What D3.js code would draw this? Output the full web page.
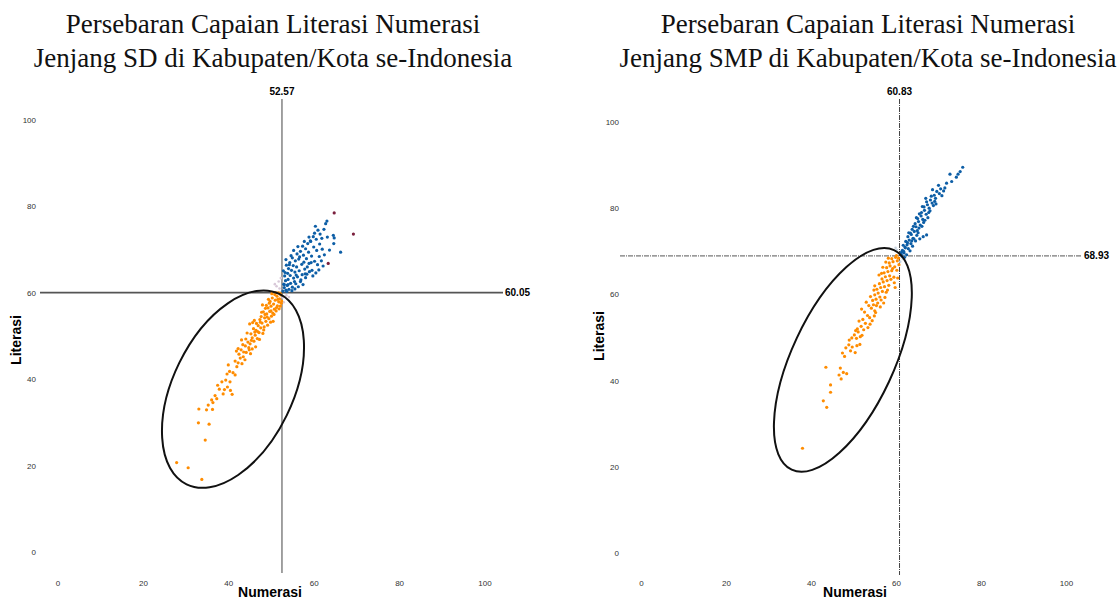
<!DOCTYPE html>
<html>
<head>
<meta charset="utf-8">
<script src="https://cdn.jsdelivr.net/npm/d3@7"></script>
<style>
  body { margin: 0; background: #fff; }
  svg { display: block; }
  .tick text { font-family: "Liberation Sans", Arial, sans-serif; font-size: 8px; fill: #333; }
</style>
</head>
<body>
<div id="chart"></div>
<script>
// tick labels
var ticks = [0, 20, 40, 60, 80, 100];

// SD panel: [numerasi, literasi]
var sdMean = [52.57, 60.05];
var sdBawah = [[27.9,20.7],[30.6,19.5],[33.8,16.8],[34.6,25.9],[33.0,29.9],[35.5,29.6],[33.1,33.1],[34.9,32.9],[35.3,34.0],[36.1,35.2],[36.4,34.6],[36.9,36.2],[37.3,35.5],[37.9,37.7],[39.1,37.6],[39.8,38.2],[40.5,37.4],[38.5,39.4],[40.9,36.5],[40.4,39.4],[39.7,41.2],[40.3,41.8],[41.1,41.5],[41.6,41.0],[40.0,43.3],[41.6,44.2],[42.3,43.8],[42.8,44.9],[43.2,43.6],[43.9,44.5],[43.5,45.2],[42.5,45.8],[42.3,47.1],[43.0,46.8],[43.4,48.0],[44.2,46.2],[44.8,47.3],[45.2,45.9],[44.6,48.6],[45.1,48.2],[44.1,49.3],[45.6,49.6],[46.0,48.8],[46.3,50.2],[45.3,50.5],[46.8,49.4],[47.2,50.8],[46.5,51.3],[45.9,51.7],[47.6,51.9],[48.1,50.6],[47.0,52.4],[48.4,52.1],[47.9,53.0],[46.6,52.9],[48.8,53.4],[49.2,52.5],[48.5,54.2],[49.5,54.0],[47.7,54.5],[49.0,55.1],[50.1,54.6],[48.2,55.6],[49.7,55.7],[50.4,55.3],[50.8,56.2],[49.3,56.5],[50.0,56.9],[51.2,55.8],[48.9,57.1],[50.6,57.4],[51.5,57.0],[49.8,58.0],[51.0,58.3],[51.8,57.9],[50.3,58.8],[52.0,58.6],[51.4,59.2],[50.9,59.6],[52.3,59.5],[51.7,60.0],[49.6,57.6],[48.7,56.4],[47.4,53.8],[46.1,53.6],[45.0,52.8],[48.0,57.2],[51.9,56.3],[52.4,57.6],[52.2,56.9],[50.5,53.4],[49.9,53.2],[47.3,49.2],[46.4,47.5],[45.6,47.0],[44.0,47.7],[43.6,46.3],[47.8,55.5],[50.2,59.8],[52.1,59.9],[51.1,60.0],[49.4,58.5],[51.6,58.5],[50.7,55.0],[49.1,54.4],[48.3,51.4],[46.9,51.0],[45.4,49.0],[44.4,50.7],[45.7,53.1],[52.5,58.1],[51.3,56.6],[50.0,55.8],[48.6,55.0],[47.5,53.2],[46.2,50.9],[44.9,46.8],[43.1,49.1],[41.9,46.5],[42.0,42.9],[38.8,36.6],[39.4,39.8],[37.5,38.6],[36.3,33.0]];
var sdAtas = [[52.8,60.4],[53.1,61.2],[53.5,60.6],[53.0,62.0],[53.8,61.7],[54.2,60.8],[53.4,62.8],[54.0,63.1],[54.6,62.2],[55.0,61.3],[53.2,63.9],[53.9,64.5],[54.5,64.0],[55.3,63.4],[55.8,62.1],[54.1,65.6],[54.8,65.2],[55.6,64.8],[56.2,63.7],[56.9,62.6],[53.6,66.4],[54.4,67.0],[55.2,66.3],[56.0,66.0],[56.6,65.1],[57.3,64.2],[55.0,68.1],[55.7,67.4],[56.5,67.8],[57.2,66.6],[57.9,65.5],[58.4,64.3],[56.1,69.0],[56.9,69.6],[57.6,68.7],[58.3,67.9],[58.9,66.8],[59.6,65.2],[57.4,70.8],[58.1,70.2],[58.8,69.4],[59.5,68.5],[60.2,67.3],[58.6,71.4],[59.3,71.9],[60.0,70.6],[60.7,69.8],[61.3,68.4],[59.9,73.0],[60.6,72.4],[61.4,71.3],[62.0,70.1],[62.2,66.2],[61.5,73.6],[61.0,74.5],[62.8,76.0],[63.1,76.6],[63.7,69.9],[64.7,71.4],[64.8,72.7],[66.3,69.4],[58.9,72.9],[59.2,72.0],[60.2,73.8],[53.7,60.3],[54.9,60.5],[55.6,60.9],[56.4,61.4],[57.5,61.9],[58.1,63.5],[57.0,63.0],[55.9,64.1],[53.3,64.7],[54.3,66.5],[52.9,65.1],[53.5,67.7],[54.7,68.6],[55.3,69.8],[56.3,70.7],[57.8,71.9],[58.0,64.4],[59.0,64.9],[59.8,63.9],[60.5,64.6],[61.2,65.3],[59.4,67.0],[60.9,66.5],[61.8,67.4],[62.5,68.8],[56.7,68.3],[57.7,67.1],[58.5,66.0],[61.9,72.6],[63.2,72.9],[62.4,74.7],[60.4,75.4],[64.6,73.3],[53.1,61.9],[54.0,61.9],[55.5,62.6]];
var sdLain = [[64.8,78.5],[69.3,73.6],[63.4,66.8]];
var sdTengah = [[51.3,61.5],[51.8,62.6],[52.0,61.0],[50.9,62.0],[52.3,63.4],[53.6,59.4],[54.2,59.0],[52.7,58.9],[53.0,57.8]];

// SMP panel
var smpMean = [60.83, 68.93];
var smpBawah = [[38.0,24.3],[42.9,35.3],[43.7,33.8],[44.6,37.3],[44.6,39.0],[43.5,43.1],[46.6,41.3],[46.9,42.9],[47.1,40.4],[47.6,41.9],[48.4,41.6],[47.4,46.4],[47.9,45.6],[48.2,47.6],[48.9,48.3],[49.3,46.9],[49.7,47.8],[50.4,46.5],[50.8,48.1],[49.6,49.9],[49.0,49.4],[50.2,50.6],[50.7,49.8],[51.1,51.3],[51.6,50.2],[50.9,52.0],[51.8,52.6],[51.3,53.8],[52.2,54.2],[52.8,53.3],[53.3,55.1],[52.6,55.9],[53.8,54.6],[54.2,56.8],[53.6,57.4],[54.7,57.6],[55.0,56.2],[54.5,58.6],[55.3,58.9],[55.7,58.0],[55.0,59.9],[55.8,60.3],[56.2,59.4],[55.5,61.2],[56.4,61.6],[56.8,60.7],[56.1,62.5],[57.0,62.9],[57.3,61.8],[56.7,63.6],[57.5,64.1],[57.9,63.2],[57.2,65.0],[58.1,65.3],[58.5,64.3],[57.8,66.2],[58.6,66.6],[59.0,65.5],[58.4,67.3],[59.3,67.6],[59.7,66.4],[59.0,68.3],[59.9,68.6],[60.3,67.8],[60.1,69.0],[60.6,68.4],[55.0,62.0],[56.0,64.5],[56.9,66.3],[57.6,67.5],[58.2,68.4],[59.5,64.0],[60.2,65.6],[60.7,66.9],[60.4,63.8],[54.9,55.0],[53.9,53.1],[52.4,51.8],[51.9,56.6],[53.0,58.2],[54.0,59.5],[55.4,57.4],[56.5,58.7],[57.7,60.5],[58.3,62.1],[58.8,63.5],[59.6,62.7],[59.2,66.0],[58.0,61.0],[56.3,57.1],[55.2,55.8],[54.4,53.9],[53.4,52.3],[52.0,50.5],[51.5,48.4],[50.5,51.6],[57.4,59.3],[57.1,58.0],[54.8,61.0],[56.6,64.9],[59.8,61.6]];
var smpAtas = [[61.2,69.3],[61.5,70.2],[61.9,69.6],[62.2,70.8],[61.7,71.4],[62.6,71.5],[62.9,70.6],[62.3,72.3],[63.1,72.6],[63.5,71.8],[62.8,73.4],[63.6,73.9],[64.0,73.0],[64.3,74.6],[63.8,75.1],[64.7,75.7],[65.0,74.8],[64.5,76.4],[65.3,76.9],[65.7,76.1],[65.1,77.6],[65.9,78.2],[66.3,77.4],[66.0,79.0],[66.7,79.5],[67.1,78.6],[66.6,80.3],[67.4,80.8],[67.8,80.0],[67.2,81.5],[68.1,81.9],[68.5,81.2],[68.3,82.8],[69.0,83.0],[69.3,82.3],[69.6,83.9],[70.2,83.4],[70.5,84.5],[71.5,84.7],[71.9,85.8],[73.1,86.2],[72.7,87.9],[74.2,87.2],[74.6,87.9],[75.1,88.5],[75.7,89.5],[66.4,73.4],[67.2,73.8],[65.6,72.9],[64.6,72.4],[63.3,70.1],[62.0,68.6],[61.4,68.9],[62.5,69.2],[63.9,71.2],[64.2,72.9],[64.9,73.7],[65.4,75.4],[66.1,75.8],[66.8,77.2],[67.5,77.8],[68.0,79.4],[68.8,80.6],[69.4,81.0],[62.1,71.0],[63.0,74.3],[63.4,74.2],[64.1,75.8],[64.8,77.8],[65.5,78.7],[66.2,80.4],[67.0,82.3],[68.6,84.3],[70.0,85.3],[62.7,72.0],[61.8,70.0],[61.3,69.8],[63.7,72.4],[65.2,74.3],[66.5,76.7],[67.7,79.0],[69.1,81.6],[70.8,82.9],[71.2,84.0]];
var smpTengah = [[60.2,70.3],[61.0,67.6],[61.6,68.2],[59.9,70.8],[62.2,67.7]];

var titles = [
  ["Persebaran Capaian Literasi Numerasi", "Jenjang SD di Kabupaten/Kota se-Indonesia"],
  ["Persebaran Capaian Literasi Numerasi", "Jenjang SMP di Kabupaten/Kota se-Indonesia"]
];

var svg = d3.select("#chart").append("svg")
  .attr("width", 1119)
  .attr("height", 599);

function panel(opt) {
  var x = d3.scaleLinear().domain([0, 100]).range([opt.x0, opt.x1]);
  var y = d3.scaleLinear().domain([0, 100]).range([opt.y0, opt.y1]);
  var g = svg.append("g");

  // title
  var t = g.append("text")
    .attr("x", opt.cx)
    .attr("y", 33)
    .attr("text-anchor", "middle")
    .style("font-family", "'Liberation Serif', 'Times New Roman', serif")
    .style("font-size", "27px")
    .style("fill", "#111");
  t.append("tspan").attr("x", opt.cx).text(opt.title[0]);
  t.append("tspan").attr("x", opt.cx).attr("dy", 34).text(opt.title[1]);

  // axes (labels only)
  var xAxis = d3.axisBottom(x).tickValues(ticks).tickSize(0).tickPadding(0);
  g.append("g").attr("transform", "translate(0," + opt.xLabY + ")").call(xAxis)
    .call(function(a) { a.select(".domain").remove(); });
  var yAxis = d3.axisLeft(y).tickValues(ticks).tickSize(0).tickPadding(0);
  g.append("g").attr("transform", "translate(" + opt.yLabX + ",0)").call(yAxis)
    .call(function(a) { a.select(".domain").remove(); })
    .selectAll("text").attr("dy", "0.32em");

  g.append("text")
    .attr("x", opt.nx).attr("y", 597)
    .attr("text-anchor", "middle")
    .style("font-family", "'Liberation Sans', Arial, sans-serif")
    .style("font-weight", "bold").style("font-size", "14px")
    .text("Numerasi");
  g.append("text")
    .attr("transform", "translate(" + opt.lx + "," + opt.ly + ") rotate(-90)")
    .attr("text-anchor", "middle")
    .style("font-family", "'Liberation Sans', Arial, sans-serif")
    .style("font-weight", "bold").style("font-size", "14px")
    .text("Literasi");

  // mean lines
  var mx = x(opt.mean[0]), my = y(opt.mean[1]);
  g.append("line")
    .attr("x1", mx).attr("x2", mx)
    .attr("y1", 99).attr("y2", opt.vEnd)
    .attr("stroke", "#444").attr("stroke-width", 1)
    .attr("stroke-dasharray", opt.dash);
  g.append("line")
    .attr("x1", opt.hStart).attr("x2", opt.hEnd)
    .attr("y1", my).attr("y2", my)
    .attr("stroke", "#555").attr("stroke-width", opt.hWidth)
    .attr("stroke-dasharray", opt.dash);
  g.append("text")
    .attr("x", mx).attr("y", 95)
    .attr("text-anchor", "middle")
    .style("font-family", "'Liberation Sans', Arial, sans-serif")
    .style("font-weight", "bold").style("font-size", "10px")
    .text(opt.mean[0].toFixed(2));
  g.append("text")
    .attr("x", opt.hEnd + 2).attr("y", my + 3.5)
    .style("font-family", "'Liberation Sans', Arial, sans-serif")
    .style("font-weight", "bold").style("font-size", "10px")
    .text(opt.mean[1].toFixed(2));

  // points
  opt.groups.forEach(function(grp) {
    g.append("g").selectAll("circle")
      .data(grp.data)
      .enter()
      .append("circle")
      .attr("cx", function(d) { return x(d[0]); })
      .attr("cy", function(d) { return y(d[1]); })
      .attr("r", grp.r)
      .style("fill", grp.color);
  });

  // ellipse around lower group
  var e = opt.ellipse;
  var rx = x(e.cx + e.a) - x(e.cx);
  var ry = x(e.cx + e.b) - x(e.cx);
  g.append("ellipse")
    .attr("transform", "translate(" + x(e.cx) + "," + y(e.cy) + ") rotate(" + (-e.angle) + ")")
    .attr("rx", rx).attr("ry", ry)
    .style("fill", "none").style("stroke", "#111").style("stroke-width", 2);
}

panel({
  x0: 57.5, x1: 484.5, y0: 552, y1: 120,
  cx: 273, title: titles[0],
  xLabY: 580, yLabX: 36,
  nx: 270, lx: 21, ly: 340,
  mean: sdMean, vEnd: 573, hStart: 40, hEnd: 503, hWidth: 1.6, dash: null,
  ellipse: { cx: 41.1, cy: 37.7, a: 24.8, b: 14.0, angle: 64 },
  groups: [
    { data: sdTengah, color: "#d8c8d8", r: 1.3 },
    { data: sdBawah, color: "#ff8c00", r: 1.6 },
    { data: sdAtas, color: "#0d5ea6", r: 1.6 },
    { data: sdLain, color: "#7a1f3d", r: 1.6 }
  ]
});

panel({
  x0: 641, x1: 1066, y0: 553, y1: 122,
  cx: 868, title: titles[1],
  xLabY: 580, yLabX: 619,
  nx: 855, lx: 604, ly: 336,
  mean: smpMean, vEnd: 575, hStart: 620, hEnd: 1082, hWidth: 1, dash: "5,1,1,1",
  ellipse: { cx: 47.5, cy: 44.8, a: 28.5, b: 12.0, angle: 65 },
  groups: [
    { data: smpTengah, color: "#c8d4e0", r: 1.3 },
    { data: smpBawah, color: "#ff8c00", r: 1.6 },
    { data: smpAtas, color: "#0d5ea6", r: 1.6 }
  ]
});
</script>
</body>
</html>
